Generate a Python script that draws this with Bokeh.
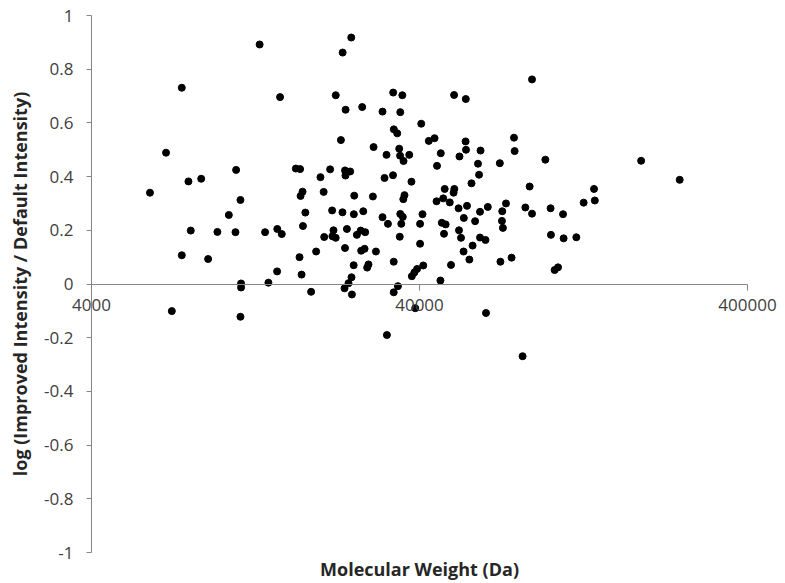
from bokeh.plotting import figure
from bokeh.models import FixedTicker, CustomJSTickFormatter, NumeralTickFormatter, ColumnDataSource, Label
from bokeh.embed import file_html
from bokeh.resources import INLINE

# Molecular weight (Da)
mw = [6750, 6030, 7540, 7900, 8640, 11040, 11380, 10490, 8030, 9680,
      10990, 7540, 9070, 11430, 11430, 7030, 11380, 13020, 13530, 14740,
      15210, 14720, 13850, 15030, 16790, 17300, 17650, 17360, 17600, 17950,
      17230, 17480, 18690, 19360, 19960, 20410, 21360, 24770, 23320, 22220,
      23810, 26750, 23040, 28980, 30850, 33250, 35460, 34950, 40490, 33400,
      34210, 31730, 31290, 33210, 23710, 24590, 23790, 25300, 28840, 42690,
      44460, 51000, 55360, 55280, 55440, 52960, 61400, 34690, 34900, 35760,
      37220, 46450, 45230, 60310, 60760, 70300, 37800, 57620, 36000, 35700,
      47740, 51080, 50820, 45090, 47250, 49470, 52630, 55830, 61170, 64610,
      71510, 73410, 21660, 23290, 25230, 26950, 30850, 32050, 34950, 35570,
      35200, 40850, 40160, 46780, 48060, 47510, 54600, 59100, 52780, 53530,
      71350, 71840, 20490, 21870, 22210, 21700, 24030, 25770, 26470, 27320,
      34830, 40160, 61170, 63580, 58070, 54500, 56770, 23710, 26560, 27200,
      29460, 33380, 25200, 27700, 27960, 37910, 38580, 39320, 41070, 49900,
      70600, 76340, 46330, 24820, 24300, 23630, 24890, 34380, 33380, 38820,
      31820, 63800, 82490, 88130, 77660, 78000, 96760, 189560, 248500, 86660,
      136180, 136950, 126620, 84080, 88130, 100400, 109570, 100650, 110000, 120290,
      103280, 105780]

# log (Improved Intensity / Default Intensity)
log_ratio = [0.489, 0.340, 0.731, 0.382, 0.392, 0.425, 0.313, 0.257, 0.199, 0.194,
             0.193, 0.107, 0.093, 0.002, -0.013, -0.101, -0.122, 0.892, 0.193, 0.205,
             0.186, 0.047, 0.005, 0.696, 0.430, 0.428, 0.216, 0.328, 0.344, 0.266,
             0.100, 0.035, -0.029, 0.121, 0.398, 0.343, 0.427, 0.918, 0.862, 0.703,
             0.649, 0.659, 0.536, 0.510, 0.642, 0.713, 0.703, 0.640, 0.597, 0.576,
             0.561, 0.481, 0.395, 0.405, 0.423, 0.419, 0.404, 0.329, 0.326, 0.533,
             0.543, 0.704, 0.689, 0.531, 0.500, 0.475, 0.497, 0.504, 0.478, 0.458,
             0.481, 0.487, 0.440, 0.448, 0.407, 0.450, 0.381, 0.375, 0.331, 0.316,
             0.354, 0.354, 0.340, 0.308, 0.319, 0.304, 0.282, 0.291, 0.269, 0.287,
             0.271, 0.300, 0.274, 0.267, 0.260, 0.271, 0.249, 0.224, 0.261, 0.250,
             0.224, 0.260, 0.224, 0.228, 0.222, 0.187, 0.246, 0.234, 0.200, 0.172,
             0.235, 0.209, 0.175, 0.200, 0.172, 0.178, 0.205, 0.183, 0.199, 0.193,
             0.176, 0.150, 0.173, 0.164, 0.143, 0.121, 0.091, 0.134, 0.124, 0.131,
             0.121, 0.083, 0.070, 0.061, 0.073, 0.029, 0.043, 0.056, 0.069, 0.071,
             0.083, 0.098, 0.013, 0.025, 0.003, -0.016, -0.039, -0.008, -0.031, -0.090,
             -0.190, -0.108, -0.269, 0.762, 0.545, 0.495, 0.463, 0.459, 0.388, 0.363,
             0.354, 0.311, 0.303, 0.285, 0.262, 0.282, 0.260, 0.183, 0.170, 0.174,
             0.052, 0.062]

x_ticks = [4000, 40000, 400000]
y_ticks = [-1, -0.8, -0.6, -0.4, -0.2, 0, 0.2, 0.4, 0.6, 0.8, 1]

x_title = "Molecular Weight (Da)"
y_title = "log (Improved Intensity / Default Intensity)"

FONT = "Open Sans"
AXIS_COLOR = "#868686"
LABEL_COLOR = "#404040"
TITLE_COLOR = "#262626"

# ---- layout (screen pixels): the frame fills the canvas, axes are placed inside it
W, H = 783, 581
AX_LEFT, AX_RIGHT = 91, 747      # where x = 4000 and x = 400000 sit
AX_TOP, AX_BOTTOM = 15, 552      # where y = 1 and y = -1 sit
x_min, x_max = x_ticks[0], x_ticks[-1]
y_min, y_max = y_ticks[0], y_ticks[-1]
px_per_decade = (AX_RIGHT - AX_LEFT) / 2.0
px_per_unit = (AX_BOTTOM - AX_TOP) / (y_max - y_min)
x_start = x_min / 10 ** (AX_LEFT / px_per_decade)
x_end = x_max * 10 ** ((W - AX_RIGHT) / px_per_decade)
y_end = y_max + AX_TOP / px_per_unit
y_start = y_min - (H - AX_BOTTOM) / px_per_unit

src = ColumnDataSource(dict(mw=mw, r=log_ratio))

p = figure(width=W, height=H, x_axis_type="log",
           x_range=(x_start, x_end), y_range=(y_start, y_end),
           output_backend="svg", toolbar_location=None,
           min_border_left=0, min_border_right=0,
           min_border_top=0, min_border_bottom=0)
p.outline_line_color = None
p.xgrid.grid_line_color = None
p.ygrid.grid_line_color = None

p.scatter("mw", "r", source=src, size=7, color="black")

# x axis crossing at y = 0
xa = p.xaxis[0]
xa.fixed_location = 0
xa.bounds = (x_min, x_max)
xa.ticker = FixedTicker(ticks=x_ticks, minor_ticks=[])
xa.formatter = NumeralTickFormatter(format="0")
xa.axis_line_color = AXIS_COLOR
xa.major_tick_line_color = AXIS_COLOR
xa.major_tick_in = 0
xa.major_tick_out = 6
xa.minor_tick_line_color = None
xa.major_label_text_font = FONT
xa.major_label_text_font_size = "17px"
xa.major_label_text_color = LABEL_COLOR
xa.major_label_standoff = 9

# y axis at x = 4000
ya = p.yaxis[0]
ya.fixed_location = x_min
ya.bounds = (y_min, y_max)
ya.ticker = FixedTicker(ticks=y_ticks, minor_ticks=[])
ya.formatter = CustomJSTickFormatter(code="return Number(tick.toFixed(1)).toString();")
ya.axis_line_color = AXIS_COLOR
ya.major_tick_line_color = AXIS_COLOR
ya.major_tick_in = 0
ya.major_tick_out = 5
ya.minor_tick_line_color = None
ya.major_label_text_font = FONT
ya.major_label_text_font_size = "17px"
ya.major_label_text_color = LABEL_COLOR
ya.major_label_standoff = 13
ya.axis_label = y_title
ya.axis_label_text_font = FONT
ya.axis_label_text_font_size = "18px"
ya.axis_label_text_font_style = "bold"
ya.axis_label_text_color = TITLE_COLOR
ya.axis_label_standoff = 9

# x title under the plot area, centred on the axis
p.add_layout(Label(x=(x_min * x_max) ** 0.5, y=y_min, y_offset=-16, text=x_title,
                   text_align="center", text_baseline="middle", text_font=FONT,
                   text_font_size="18px", text_font_style="bold", text_color=TITLE_COLOR))

open("out.html", "w").write(file_html(p, INLINE))
